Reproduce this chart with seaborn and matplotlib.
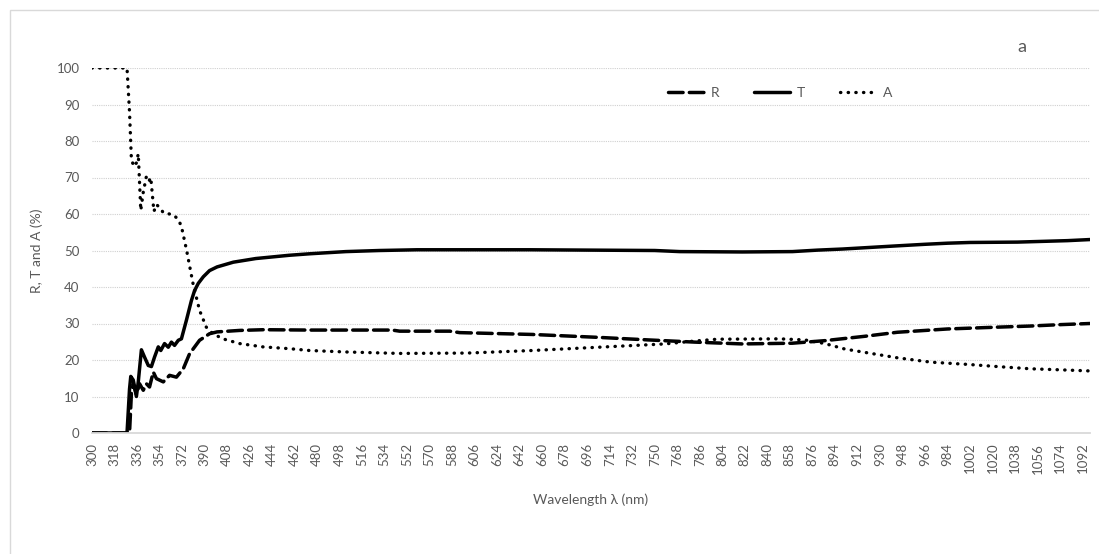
import matplotlib
matplotlib.use("Agg")
import matplotlib.pyplot as plt
from matplotlib.patches import Rectangle
import seaborn as sns
import pandas as pd

# ---- data ----
r_nm = [300, 330, 331.5, 333, 335.5, 338, 341, 343.5, 346, 349, 351.5, 357, 362, 367.5, 373, 378,
        386, 394, 400, 418, 437, 474, 540, 546, 586, 594, 652, 705, 745, 782, 820, 860, 886,
        918, 944, 984, 1024, 1050, 1075, 1098]
r_val = [0, 0, 10.8, 13.5, 10.5, 13.5, 11.7, 13.5, 12.6, 16.7, 14.9, 14.0, 15.8, 15.3, 17.6, 21.7,
         25.4, 27.2, 27.7, 28.1, 28.3, 28.2, 28.2, 27.9, 27.9, 27.5, 27.0, 26.2, 25.5, 24.9, 24.4,
         24.6, 25.3, 26.5, 27.6, 28.5, 29.0, 29.3, 29.7, 30.0]

t_nm = [300, 328, 330, 331, 333, 335.5, 337, 339.5, 342, 345, 347.5, 350, 353, 355, 358, 361,
        363.5, 366, 369, 371.5, 375.5, 379.5, 382, 385, 389, 394, 400, 413, 431, 458, 474, 503,
        530, 560, 590, 620, 650, 700, 750, 770, 820, 860, 880, 900, 920, 940, 966, 984, 1002,
        1040, 1060, 1080, 1098]
t_val = [0, 0, 12, 15.5, 14.5, 10, 14, 22.8, 20.8, 18.5, 18.2, 20.8, 23.6, 22.6, 24.5, 23.5,
         24.9, 24.0, 25.4, 25.8, 30.9, 36.3, 39.0, 41.0, 42.8, 44.5, 45.5, 46.8, 47.8, 48.7, 49.1,
         49.7, 50.0, 50.2, 50.2, 50.2, 50.2, 50.1, 50.0, 49.7, 49.6, 49.7, 50.1, 50.4, 50.8, 51.2,
         51.7, 52.0, 52.2, 52.3, 52.5, 52.7, 53.0]

a_nm = [300, 328, 330, 331.5, 333.5, 335.5, 337, 339, 341, 343.5, 345.5, 347, 349.5, 351.5, 355,
        357, 362, 365, 369, 371.5, 375.5, 380.8, 386, 391.4, 396.7, 404.7, 418, 436.6, 458, 474,
        503, 546, 600, 652, 705, 758, 782, 800, 850, 870, 886, 902, 944, 971, 1000, 1024, 1050,
        1075, 1098]
a_val = [100, 100, 88, 75, 73, 74, 76.5, 61, 66, 70.3, 69, 70, 60.7, 62.6, 61.5,
         60.3, 60.0, 59.8, 58.5, 56.6, 50.3, 40.9, 33.6, 29.0, 27.2, 25.8, 24.5, 23.6, 23.1, 22.6,
         22.2, 21.8, 21.9, 22.6, 23.5, 24.4, 25.2, 25.7, 25.8, 25.5, 24.5, 23.0, 20.6, 19.4, 18.8,
         18.2, 17.6, 17.3, 17.0]

x_ticks = list(range(300, 1093, 18))
y_ticks = list(range(0, 101, 10))

# ---- style ----
sns.set_theme(style="white")
plt.rcParams['font.family'] = ['Lato', 'DejaVu Sans']
gray = "#595959"

fig = plt.figure(figsize=(10.99, 5.54), dpi=100)
ax = fig.add_axes([92 / 1099, (554 - 433) / 554, (1090 - 92) / 1099, (433 - 68) / 554])

common = dict(ax=ax, color="black", estimator=None, sort=False)
sns.lineplot(x=r_nm, y=r_val, linewidth=2.5, linestyle=(0, (4.2, 1.8)), label="R", **common)
sns.lineplot(x=t_nm, y=t_val, linewidth=2.5, linestyle="-", label="T", **common)
sns.lineplot(x=a_nm, y=a_val, linewidth=2.4, linestyle=(0, (0.1, 2.2)), label="A", **common)
for ln in ax.get_lines():
    ln.set_dash_capstyle("round")
    ln.set_solid_capstyle("round")

ax.set_xlim(300, 1098)
ax.set_ylim(0, 100)
ax.set_xticks(x_ticks)
ax.set_xticklabels([str(v) for v in x_ticks], rotation=90)
ax.set_yticks(y_ticks)
ax.tick_params(axis="both", length=0, labelsize=9.5, colors=gray)
ax.tick_params(axis="x", pad=7)
ax.tick_params(axis="y", pad=9)

ax.grid(axis="y", color="#d0d0d0", linestyle=(0, (1, 1)), linewidth=0.8)
ax.grid(axis="x", visible=False)
for s in ["left", "right", "top"]:
    ax.spines[s].set_visible(False)
ax.spines["bottom"].set_color("#d9d9d9")
ax.spines["bottom"].set_linewidth(1.3)
ax.set_axisbelow(True)

ax.set_xlabel("Wavelength λ (nm)", fontsize=10, color=gray, labelpad=14)
ax.set_ylabel("R, T and A (%)", fontsize=10, color=gray, labelpad=10)

leg = ax.legend(loc="center", bbox_to_anchor=(780 / 1099, 1 - 93 / 554),
                bbox_transform=fig.transFigure, ncol=3, frameon=False, fontsize=10,
                handlelength=2.6, handletextpad=0.5, columnspacing=2.5)
for txt in leg.get_texts():
    txt.set_color(gray)

fig.text(1022 / 1099, 1 - 47 / 554, "a", fontsize=13, color=gray, ha="center", va="center")

fig.patches.append(Rectangle((10 / 1099, -0.1), 1.2, 0.1 + (554 - 10) / 554,
                             transform=fig.transFigure, fill=False,
                             edgecolor="#d9d9d9", linewidth=1.0))

fig.savefig("out.png", dpi=100)
